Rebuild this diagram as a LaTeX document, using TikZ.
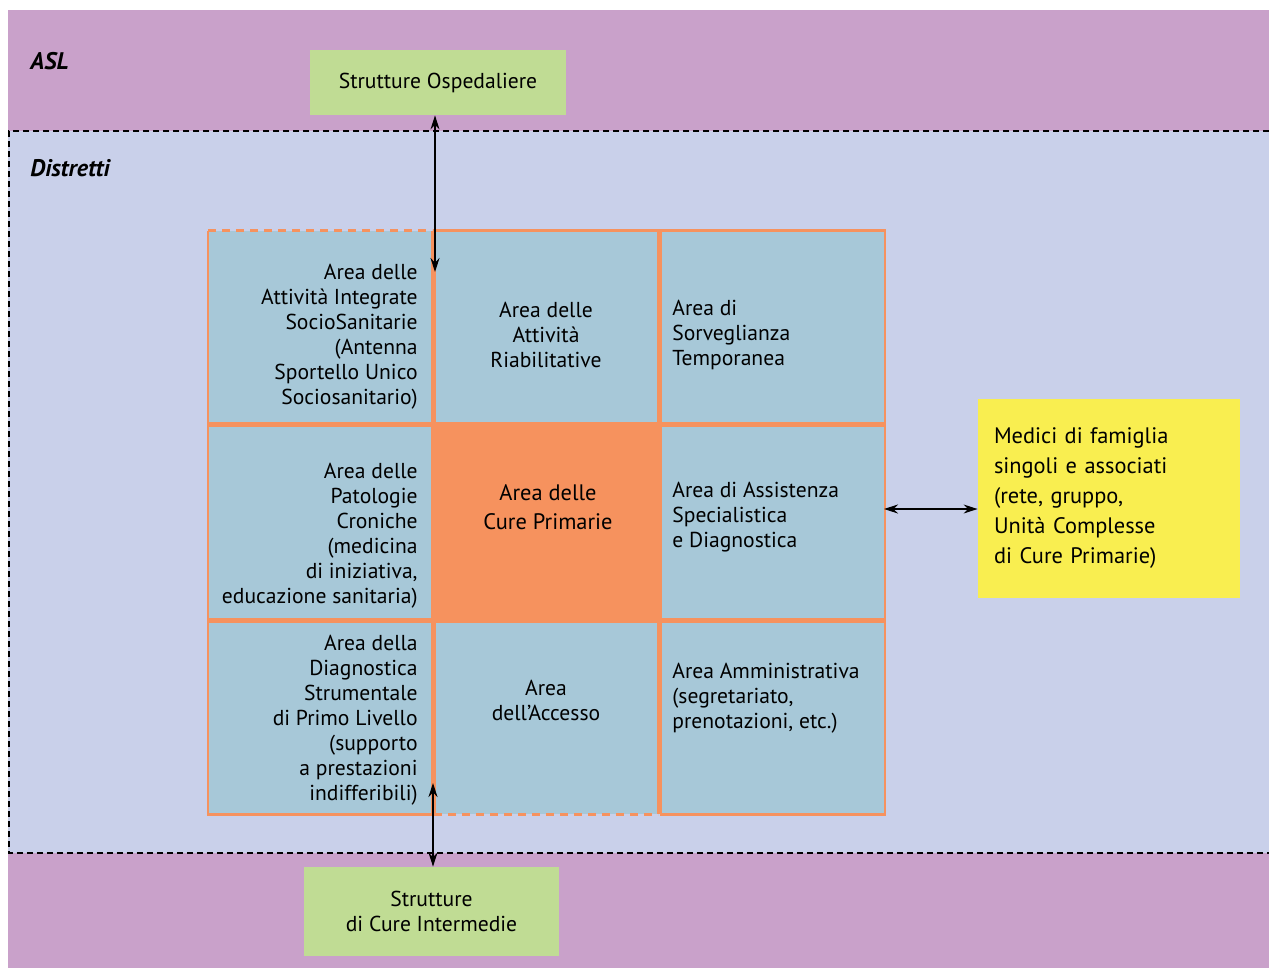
\documentclass[tikz,border=0pt]{standalone}
\usepackage{fontspec}
\setmainfont{PT Sans}
\usetikzlibrary{arrows.meta, positioning}
\definecolor{AslPurple}{RGB}{201,161,202}
\definecolor{DistLavender}{RGB}{201,208,234}
\definecolor{CellBlue}{RGB}{167,200,216}
\definecolor{AreaOrange}{RGB}{246,146,94}
\definecolor{StructGreen}{RGB}{192,220,148}
\definecolor{MediciYellow}{RGB}{249,238,80}

\begin{document}
\begin{tikzpicture}[x=0.5pt, y=-0.5pt]
        \tikzstyle{cell} = [rectangle, minimum width=112pt, minimum height=96.5pt, inner sep=0pt, outer sep=0pt, fill=CellBlue, draw=AreaOrange, line width=1.2pt]
        \tikzstyle{edge} = [AreaOrange, line width=1.2pt]
        \tikzstyle{lbl} = [font=\fontsize{10.8}{12.5}\selectfont, inner sep=0pt]
        \tikzstyle{struct} = [rectangle, fill=StructGreen, font=\fontsize{10.8}{12.5}\selectfont, inner sep=0pt, align=center]
        \tikzstyle{title} = [font=\fontsize{12}{14}\selectfont\bfseries\itshape, inner sep=0pt, anchor=west]
        \tikzstyle{arrow} = [{Stealth[length=7pt,width=4.5pt]}-{Stealth[length=7pt,width=4.5pt]}, line width=0.6pt]

        \useasboundingbox (0,0) rectangle (1269,970);

        % Fasce ASL e Distretti
        \fill[AslPurple] (8,10) rectangle (1269,968);
        \fill[DistLavender] (8,131) rectangle (1269,853);
        \draw[line width=0.9pt, dash pattern=on 3pt off 2pt] (1269,131) -- (9,131) -- (9,853) -- (1269,853);
        \node (asl) [title] at (30,61) {ASL};
        \node (distretti) [title] at (30,168) {Distretti};

        % Griglia delle aree
        \node (c11) [cell, draw=none] at (320,327) {};
        \node (c12) [cell, right=1.2pt of c11] {};
        \node (c13) [cell, right=1.2pt of c12] {};
        \node (c21) [cell, below=1.2pt of c11] {};
        \node (c22) [cell, fill=AreaOrange, right=1.2pt of c21] {};
        \node (c23) [cell, right=1.2pt of c22] {};
        \node (c31) [cell, below=1.2pt of c21] {};
        \node (c32) [cell, draw=none, right=1.2pt of c31] {};
        \node (c33) [cell, right=1.2pt of c32] {};

        % Bordi tratteggiati
        \draw [edge] (c11.north east) -- (c11.south east) -- (c11.south west) -- (c11.north west);
        \draw [edge, dash pattern=on 4pt off 3pt] (c11.north west) -- (c11.north east);
        \draw [edge] (c32.south west) -- (c32.north west) -- (c32.north east) -- (c32.south east);
        \draw [edge, dash pattern=on 4pt off 3pt] (c32.south west) -- (c32.south east);

        % Testi delle aree
        \node (t11) [lbl, anchor=east, align=right] at (418,337) {Area delle\\Attività Integrate\\SocioSanitarie\\(Antenna\\Sportello Unico\ \\Sociosanitario)};
        \node (t12) [lbl, align=center] at (546,335) {Area delle\\Attività\\Riabilitative};
        \node (t13) [lbl, anchor=west, align=left] at (672,335) {Area di\\Sorveglianza\\Temporanea};
        \node (t21) [lbl, anchor=east, align=right] at (418,536) {Area delle\\Patologie\\Croniche\\(medicina\\di iniziativa,\\educazione sanitaria)};
        \node (t22) [lbl, font=\fontsize{11.2}{14.5}\selectfont, align=center] at (548,507) {Area delle\\Cure Primarie};
        \node (t23) [lbl, anchor=west, align=left] at (672,517) {Area di Assistenza\\Specialistica\\e Diagnostica};
        \node (t31) [lbl, anchor=east, align=right] at (418,720) {Area della\\Diagnostica\\Strumentale\\di Primo Livello\\(supporto\\a prestazioni\\indifferibili)};
        \node (t32) [lbl, align=center] at (546,700) {Area\\dell’Accesso};
        \node (t33) [lbl, anchor=west, align=left] at (672,698) {Area Amministrativa\\(segretariato,\\prenotazioni, etc.)};

        % Strutture e medici
        \node (ospedaliere) [struct, minimum width=128pt, minimum height=32.5pt] at (438,82.5) {Strutture Ospedaliere};
        \node (intermedie) [struct, minimum width=127.5pt, minimum height=44.5pt] at (431.5,911.5) {Strutture\\di Cure Intermedie};
        \node (medici) [rectangle, fill=MediciYellow, font=\fontsize{11.2}{15}\selectfont, inner xsep=8pt, inner ysep=0pt, text width=115pt, minimum height=99.5pt, align=left] at (1109,498.5) {Medici di famiglia\\singoli e associati\\(rete, gruppo,\\Unità Complesse\\di Cure Primarie)};

        % Frecce
        \coordinate (a1) at (435,272);
        \coordinate (a2) at (433,783);
        \coordinate (a3) at (884,509);
        \draw [arrow] (a1 |- ospedaliere.south) -- (a1);
        \draw [arrow] (a2) -- (a2 |- intermedie.north);
        \draw [arrow] (a3) -- (a3 -| medici.west);
\end{tikzpicture}
\end{document}
